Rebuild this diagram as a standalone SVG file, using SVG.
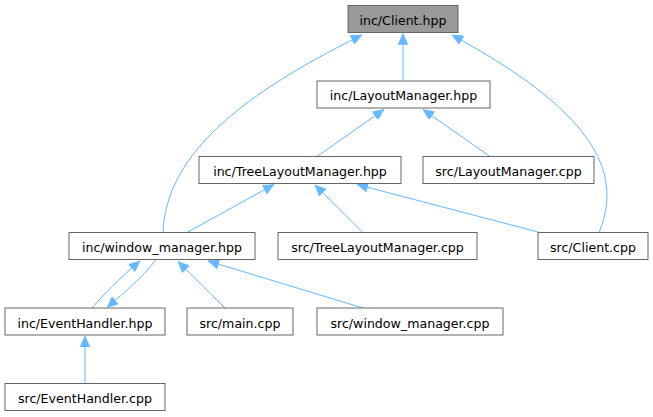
<svg xmlns="http://www.w3.org/2000/svg" width="653" height="417" viewBox="0 0 653 417">
<style>
.n rect{fill:#fff;stroke:#666;stroke-width:1}
.n text{font-family:"DejaVu Sans",sans-serif;font-size:12.6px;fill:#000;text-anchor:middle}
#n0 rect{fill:#999}
.e path{fill:none;stroke:#63b8ff;stroke-width:1;marker-end:url(#ah)}
</style>
<defs>
<marker id="ah" viewBox="0 0 11 10" refX="11" refY="5" markerWidth="11" markerHeight="10" markerUnits="userSpaceOnUse" orient="auto">
<path d="M0,0 L11,5 L0,10 z" fill="#63b8ff" stroke="#63b8ff" stroke-width="0.5"/>
</marker>
</defs>
<g class="e">
<path d="M403,81 L403,33.5"/>
<path d="M163,232.5 C166,160 230,100 362,35"/>
<path d="M599,232.5 C625,170 590,110 452,35"/>
<path d="M317,156.5 L384,109.5"/>
<path d="M490,156.5 L423,109.5"/>
<path d="M187,232.5 L274,184.5"/>
<path d="M363,232.5 L315,185"/>
<path d="M540,232.5 L357,184.5"/>
<path d="M92,308 C102,296 120,278 140,261"/>
<path d="M155,260.5 C145,275 125,292 107,307.5"/>
<path d="M225,308 L178,261.5"/>
<path d="M363,308 L208,261"/>
<path d="M85,383.5 L85,336"/>
</g>
<g id="n0" class="n"><rect x="348" y="5.5" width="110" height="27"/><text x="403" y="24.5">inc/Client.hpp</text></g>
<g id="n1" class="n"><rect x="317" y="81" width="173" height="27"/><text x="403.5" y="100">inc/LayoutManager.hpp</text></g>
<g id="n2" class="n"><rect x="199" y="156.5" width="202" height="27"/><text x="300" y="176">inc/TreeLayoutManager.hpp</text></g>
<g id="n3" class="n"><rect x="423" y="156.5" width="171" height="27"/><text x="508.5" y="176">src/LayoutManager.cpp</text></g>
<g id="n4" class="n"><rect x="69" y="232.5" width="186" height="27"/><text x="162" y="252">inc/window_manager.hpp</text></g>
<g id="n5" class="n"><rect x="278" y="232.5" width="199" height="27"/><text x="377.5" y="252">src/TreeLayoutManager.cpp</text></g>
<g id="n6" class="n"><rect x="538" y="232.5" width="110" height="27"/><text x="593" y="252">src/Client.cpp</text></g>
<g id="n7" class="n"><rect x="5" y="308" width="160" height="27"/><text x="85" y="327.5">inc/EventHandler.hpp</text></g>
<g id="n8" class="n"><rect x="187" y="308" width="106" height="27"/><text x="240" y="327.5">src/main.cpp</text></g>
<g id="n9" class="n"><rect x="317" y="308" width="186" height="27"/><text x="410" y="327.5">src/window_manager.cpp</text></g>
<g id="n10" class="n"><rect x="5" y="383.5" width="160" height="27"/><text x="85" y="403">src/EventHandler.cpp</text></g>
</svg>
